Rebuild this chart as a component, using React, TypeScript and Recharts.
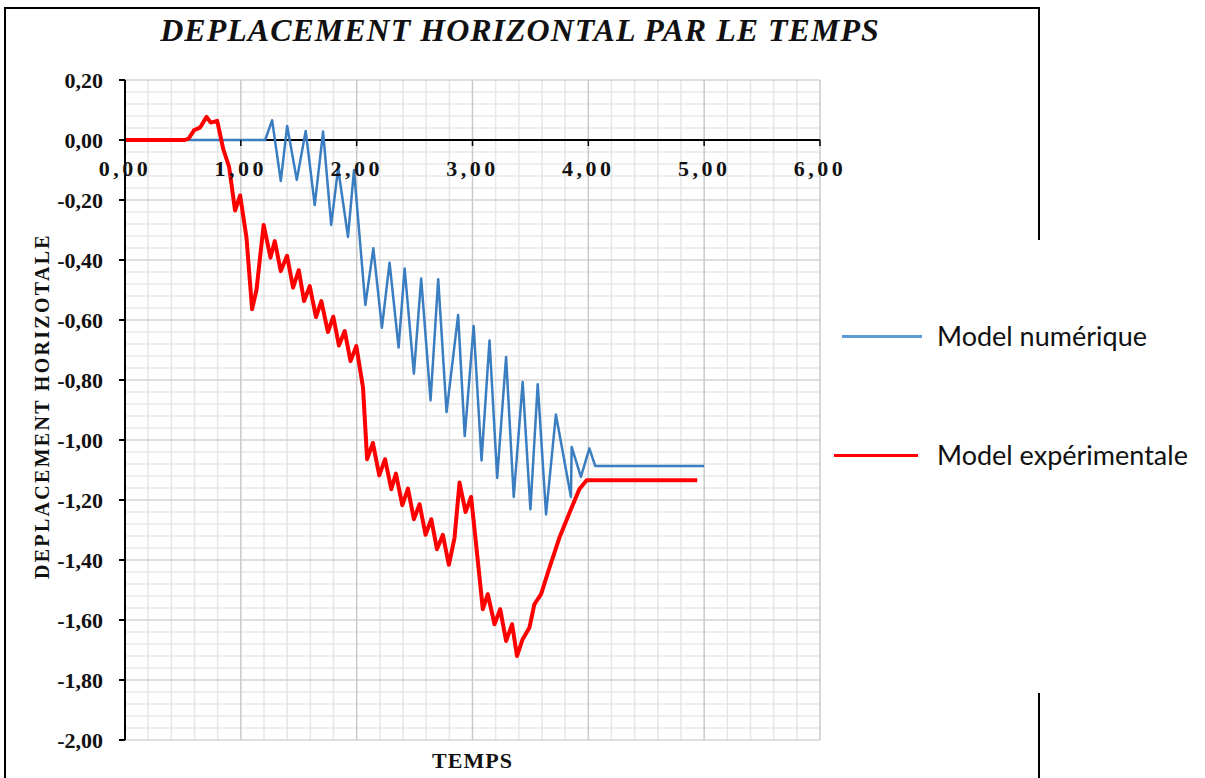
import React from "react";
import {
  LineChart,
  Line,
  XAxis,
  YAxis,
  ReferenceLine,
  ReferenceDot,
  Label,
} from "recharts";

// numerical model: time (s) and horizontal displacement
const numT = [
  0, 1.21, 1.27, 1.345, 1.4, 1.483, 1.56, 1.638, 1.71, 1.78, 1.84, 1.925, 1.977,
  2.075, 2.144, 2.218, 2.284, 2.362, 2.414, 2.494, 2.557, 2.638, 2.704, 2.776,
  2.876, 2.933, 3.01, 3.078, 3.147, 3.213, 3.29, 3.356, 3.433, 3.5, 3.563, 3.635,
  3.72, 3.85, 3.856, 3.936, 4.009, 4.06, 5.0,
];
const numV = [
  0, 0, 0.066, -0.137, 0.047, -0.133, 0.03, -0.217, 0.028, -0.283, -0.094, -0.323,
  -0.1, -0.55, -0.361, -0.626, -0.409, -0.692, -0.428, -0.779, -0.462, -0.868,
  -0.464, -0.907, -0.583, -0.987, -0.62, -1.068, -0.668, -1.126, -0.723, -1.19,
  -0.807, -1.231, -0.814, -1.248, -0.915, -1.19, -1.023, -1.123, -1.028, -1.087,
  -1.087,
];

// experimental model
const expT = [
  0, 0.517, 0.55, 0.597, 0.647, 0.704, 0.741, 0.796, 0.848, 0.899, 0.95, 0.994,
  1.049, 1.097, 1.135, 1.197, 1.256, 1.293, 1.345, 1.399, 1.451, 1.5, 1.546, 1.595,
  1.649, 1.695, 1.752, 1.798, 1.847, 1.897, 1.947, 1.997, 2.055, 2.09, 2.14, 2.195,
  2.245, 2.299, 2.339, 2.394, 2.443, 2.494, 2.543, 2.595, 2.644, 2.693, 2.744,
  2.796, 2.845, 2.888, 2.94, 2.988, 3.04, 3.089, 3.132, 3.19, 3.239, 3.29, 3.342,
  3.384, 3.433, 3.491, 3.534, 3.592, 3.664, 3.75, 3.85, 3.922, 3.985, 4.94,
];
const expV = [
  0, 0, 0.005, 0.033, 0.041, 0.077, 0.058, 0.064, -0.03, -0.09, -0.235, -0.185,
  -0.326, -0.564, -0.5, -0.283, -0.392, -0.337, -0.437, -0.386, -0.492, -0.434,
  -0.537, -0.487, -0.59, -0.537, -0.64, -0.589, -0.685, -0.637, -0.737, -0.687,
  -0.826, -1.064, -1.01, -1.118, -1.064, -1.164, -1.112, -1.217, -1.162, -1.264,
  -1.214, -1.316, -1.264, -1.364, -1.316, -1.416, -1.326, -1.142, -1.24, -1.19,
  -1.381, -1.564, -1.514, -1.614, -1.564, -1.67, -1.614, -1.72, -1.664, -1.626,
  -1.548, -1.514, -1.426, -1.326, -1.231, -1.164, -1.134, -1.134,
];

const timeTicks = [0, 1, 2, 3, 4, 5, 6];
const dispTicks = [0.2, 0, -0.2, -0.4, -0.6, -0.8, -1.0, -1.2, -1.4, -1.6, -1.8, -2.0];

const SERIES = [
  { key: "num", name: "Model numérique", color: "#3a7dc0", legend: "#5b9bd5", width: 2.5, t: numT, v: numV },
  { key: "exp", name: "Model expérimentale", color: "#ff0000", legend: "#ff0000", width: 4, t: expT, v: expV },
];

// minor grid: every 0.2 s and every 0.04 in displacement
const minorX = Array.from({ length: 31 }, (_, i) => +(i * 0.2).toFixed(2)).filter((v) => !timeTicks.includes(v));
const minorY = Array.from({ length: 56 }, (_, i) => +(0.2 - i * 0.04).toFixed(2)).filter(
  (v) => !dispTicks.some((d) => Math.abs(d - v) < 1e-6)
);

const SERIF = '"Liberation Serif", "Times New Roman", serif';
const fmt = (v: number) => v.toFixed(2).replace(".", ",").replace("-0,00", "0,00");

function TimeTick(props: any) {
  const { cx, cy, label } = props;
  return (
    <g>
      <line x1={cx} y1={cy} x2={cx} y2={cy + 6} stroke="#000" strokeWidth={1.5} />
      <text
        x={cx}
        y={cy + 36}
        textAnchor="middle"
        fontFamily={SERIF}
        fontWeight="bold"
        fontSize={22}
        letterSpacing={3.5}
        fill="#111"
      >
        {label}
      </text>
    </g>
  );
}

function YTitle(props: any) {
  const { viewBox } = props;
  const cx = viewBox.x + 42;
  const cy = viewBox.y + viewBox.height / 2 - 4;
  return (
    <text
      x={cx}
      y={cy}
      transform={`rotate(-90 ${cx} ${cy})`}
      textAnchor="middle"
      dominantBaseline="central"
      fontFamily={SERIF}
      fontWeight="bold"
      fontSize={20}
      letterSpacing={2.3}
      fill="#111"
    >
      DEPLACEMENT HORIZOTALE
    </text>
  );
}

function XTitle(props: any) {
  const { viewBox } = props;
  return (
    <text
      x={viewBox.x + viewBox.width / 2}
      y={viewBox.y + 28}
      textAnchor="middle"
      fontFamily={SERIF}
      fontWeight="bold"
      fontSize={22}
      letterSpacing={1}
      fill="#111"
    >
      TEMPS
    </text>
  );
}

export default function App() {
  return (
    <div style={{ position: "absolute", left: 0, top: 0, width: 1205, height: 778, background: "#fff", overflow: "hidden" }}>
      {/* frame */}
      <div style={{ position: "absolute", left: 4, top: 7, width: 1036, height: 2, background: "#000" }} />
      <div style={{ position: "absolute", left: 4, top: 7, width: 2, height: 771, background: "#000" }} />
      <div style={{ position: "absolute", left: 1038, top: 7, width: 2, height: 233, background: "#000" }} />
      <div style={{ position: "absolute", left: 1038, top: 693, width: 2, height: 85, background: "#000" }} />

      <div
        style={{
          position: "absolute",
          left: 20,
          width: 1000,
          top: 12,
          textAlign: "center",
          fontFamily: SERIF,
          fontWeight: "bold",
          fontStyle: "italic",
          fontSize: 32,
          letterSpacing: 1,
          color: "#111",
        }}
      >
        DEPLACEMENT HORIZONTAL PAR LE TEMPS
      </div>

      <div style={{ position: "absolute", left: 0, top: 0 }}>
        <LineChart width={1205} height={778} margin={{ top: 80, right: 385, bottom: 0, left: 0 }}>
          <XAxis
            type="number"
            dataKey="t"
            domain={[0, 6]}
            ticks={timeTicks}
            allowDataOverflow
            height={38}
            axisLine={false}
            tickLine={false}
            tick={false}
          >
            <Label content={<XTitle />} />
          </XAxis>
          <YAxis
            type="number"
            domain={[-2, 0.2]}
            ticks={dispTicks}
            allowDataOverflow
            width={125}
            tickFormatter={fmt}
            axisLine={{ stroke: "#000", strokeWidth: 2 }}
            tickLine={{ stroke: "#000", strokeWidth: 2 }}
            tickSize={6}
            tickMargin={16}
            tick={{ fill: "#111", fontSize: 22, fontWeight: "bold", fontFamily: SERIF }}
          >
            <Label content={<YTitle />} />
          </YAxis>

          {minorY.map((v) => (
            <ReferenceLine key={`my${v}`} y={v} stroke="#e8e8e8" strokeWidth={1.5} />
          ))}
          {minorX.map((v) => (
            <ReferenceLine key={`mx${v}`} x={v} stroke="#e6e6e6" strokeWidth={1.5} />
          ))}
          {dispTicks.map((v) => (
            <ReferenceLine key={`y${v}`} y={v} stroke="#d4d4d4" strokeWidth={1.5} />
          ))}
          {timeTicks.map((v) => (
            <ReferenceLine key={`x${v}`} x={v} stroke="#cacaca" strokeWidth={1.5} />
          ))}

          <ReferenceLine y={0} stroke="#000" strokeWidth={2} />
          {timeTicks.map((t) => (
            <ReferenceDot
              key={`tick${t}`}
              x={t}
              y={0}
              r={0}
              shape={(p: any) => <TimeTick {...p} label={fmt(t)} />}
            />
          ))}
          {SERIES.map((s) => (
            <Line
              key={s.key}
              data={s.t.map((t, i) => ({ t, v: s.v[i] }))}
              dataKey="v"
              name={s.name}
              type="linear"
              stroke={s.color}
              strokeWidth={s.width}
              strokeLinejoin="round"
              dot={false}
              activeDot={false}
              isAnimationActive={false}
            />
          ))}
        </LineChart>
      </div>

      {/* legend */}
      {SERIES.map((s, i) => (
        <div
          key={s.key}
          style={{ position: "absolute", left: i === 0 ? 842 : 834, top: i === 0 ? 318 : 437, display: "flex", alignItems: "center" }}
        >
          <div style={{ width: i === 0 ? 80 : 84, height: 3, background: s.legend, marginRight: i === 0 ? 15 : 19 }} />
          <span style={{ fontFamily: "Lato, sans-serif", fontSize: 27, color: "#111", lineHeight: "36px" }}>{s.name}</span>
        </div>
      ))}
    </div>
  );
}
